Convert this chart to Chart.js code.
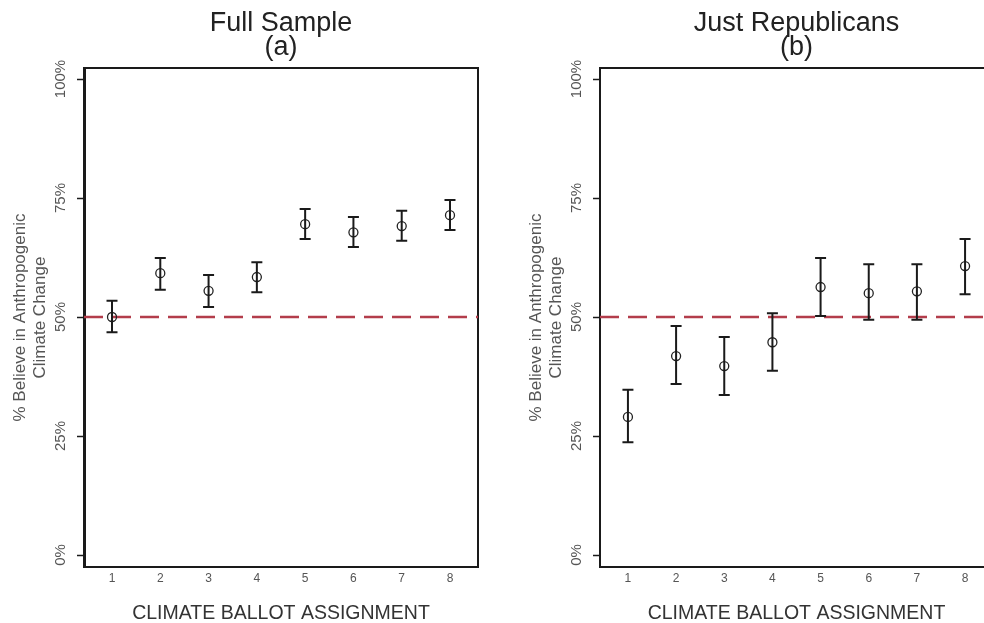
<!DOCTYPE html>
<html>
<head>
<meta charset="utf-8">
<script src="https://cdn.jsdelivr.net/npm/chart.js@4.4.0/dist/chart.umd.min.js"></script>
<style>
  html, body { margin: 0; padding: 0; background: #fff; overflow: hidden; width: 984px; height: 623px; }
  canvas { position: absolute; top: 0; }
  #fullChart { left: 0; }
  #repChart { left: 516px; }
</style>
</head>
<body>
<canvas id="fullChart" width="562" height="623"></canvas>
<canvas id="repChart" width="561" height="623"></canvas>
<script>
// ballot assignments (x categories) and y tick marks
const ballots = [1, 2, 3, 4, 5, 6, 7, 8];
const yTicks = [0, 25, 50, 75, 100];
const refLevel = 50;

// (a) full sample: point estimate and 95% interval
const fullMean = [50.0, 59.2, 55.5, 58.4, 69.5, 67.8, 69.1, 71.4];
const fullLow  = [46.8, 55.7, 52.1, 55.2, 66.4, 64.7, 66.0, 68.3];
const fullHigh = [53.4, 62.4, 58.8, 61.5, 72.7, 71.0, 72.3, 74.6];

// (b) just republicans
const repMean = [29.0, 41.8, 39.7, 44.7, 56.3, 55.0, 55.4, 60.7];
const repLow  = [23.7, 35.9, 33.6, 38.7, 50.2, 49.4, 49.4, 54.8];
const repHigh = [34.7, 48.1, 45.8, 50.8, 62.4, 61.1, 61.1, 66.4];

const X_MIN = 0.42, X_MAX = 8.58;
const Y_MIN = -2.52, Y_MAX = 102.3;
const INK = '#1a1a1a';
const DASH_RED = '#b33d4b';

Chart.defaults.font.family = "'Liberation Sans', Arial, sans-serif";
Chart.defaults.animation = false;

// draws the interval whiskers from the scales
function errorBarPlugin(low, high) {
  return {
    id: 'errorBars',
    afterDatasetsDraw(chart) {
      const { ctx, scales: { x, y } } = chart;
      ctx.save();
      ctx.strokeStyle = INK;
      ctx.lineWidth = 2;
      low.forEach((lo, i) => {
        const px = x.getPixelForValue(ballots[i]);
        const top = y.getPixelForValue(high[i]);
        const bot = y.getPixelForValue(lo);
        ctx.beginPath();
        ctx.moveTo(px, top); ctx.lineTo(px, bot);
        ctx.moveTo(px - 5.5, top); ctx.lineTo(px + 5.5, top);
        ctx.moveTo(px - 5.5, bot); ctx.lineTo(px + 5.5, bot);
        ctx.stroke();
      });
      ctx.restore();
    }
  };
}

function buildPanel(id, titleLines, mean, low, high, leftBorder) {
  const ctx = document.getElementById(id).getContext('2d');
  return new Chart(ctx, {
    type: 'scatter',
    data: {
      datasets: [{
        data: ballots.map((b, i) => ({ x: b, y: mean[i] })),
        pointStyle: 'circle',
        pointRadius: 4.5,
        pointBorderWidth: 1.3,
        pointBorderColor: '#222',
        pointBackgroundColor: 'rgba(0,0,0,0)'
      }, {
        data: [{ x: X_MIN, y: refLevel }, { x: X_MAX, y: refLevel }],
        showLine: true,
        borderColor: DASH_RED,
        borderWidth: 2.5,
        borderDash: [19, 9],
        pointRadius: 0
      }]
    },
    options: {
      responsive: false,
      events: [],
      layout: { padding: 0 },
      plugins: {
        legend: { display: false },
        tooltip: { enabled: false },
        title: {
          display: true,
          text: titleLines,
          color: '#222',
          font: { size: 27, weight: 'normal', lineHeight: 0.89 },
          padding: { top: 11.6, bottom: 8.4 }
        }
      },
      scales: {
        x: {
          type: 'linear', position: 'bottom', min: X_MIN, max: X_MAX,
          afterBuildTicks: s => { s.ticks = ballots.map(v => ({ value: v })); },
          afterFit: s => { s.height = 56; s.paddingLeft = 0; s.paddingRight = 0; },
          grid: { display: true, drawOnChartArea: false, drawTicks: false },
          border: { display: true, color: INK, width: 2 },
          ticks: { padding: 4, color: '#555', font: { size: 12 }, maxRotation: 0, autoSkip: false },
          title: {
            display: true, text: 'CLIMATE BALLOT ASSIGNMENT', color: '#333',
            font: { size: 19.5, lineHeight: 1 }, padding: { top: 0, bottom: 0 }
          }
        },
        xTop: {
          type: 'linear', position: 'top', min: X_MIN, max: X_MAX,
          afterFit: s => { s.height = 0; s.paddingLeft = 0; s.paddingRight = 0; },
          grid: { display: true, drawOnChartArea: false, drawTicks: false },
          border: { display: true, color: INK, width: 2 },
          ticks: { display: false }
        },
        y: {
          type: 'linear', position: 'left', min: Y_MIN, max: Y_MAX,
          afterBuildTicks: s => { s.ticks = yTicks.map(v => ({ value: v })); },
          afterFit: s => { s.width = 84; s.paddingTop = 0; s.paddingBottom = 0; },
          grid: { drawOnChartArea: false, drawTicks: true, tickLength: 7, tickColor: INK, tickWidth: 1.5 },
          border: { display: true, color: INK, width: leftBorder },
          ticks: {
            minRotation: 90, maxRotation: 90, crossAlign: 'center', padding: -3,
            color: '#555', font: { size: 15 }, callback: v => v + '%'
          },
          title: {
            display: true, text: ['% Believe in Anthropogenic', 'Climate Change'], color: '#555',
            font: { size: 17, lineHeight: 1.2 }, padding: { top: 10, bottom: 0 }
          }
        },
        yRight: {
          type: 'linear', position: 'right', min: Y_MIN, max: Y_MAX,
          afterFit: s => { s.width = 84; s.paddingTop = 0; s.paddingBottom = 0; },
          grid: { drawOnChartArea: false, drawTicks: false },
          border: { display: true, color: INK, width: 2 },
          ticks: { display: false }
        }
      }
    },
    plugins: [errorBarPlugin(low, high)]
  });
}

buildPanel('fullChart', ['Full Sample', '(a)'], fullMean, fullLow, fullHigh, 3);
buildPanel('repChart', ['Just Republicans', '(b)'], repMean, repLow, repHigh, 2);
</script>
</body>
</html>
